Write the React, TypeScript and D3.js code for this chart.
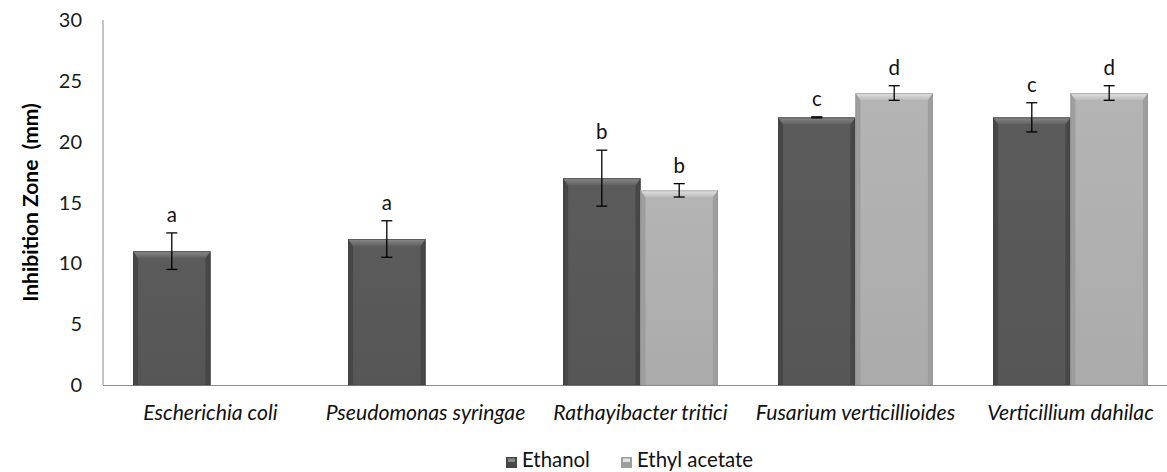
import { useEffect, useRef } from "react";
import * as d3 from "d3";

const categories = [
  "Escherichia coli",
  "Pseudomonas syringae",
  "Rathayibacter tritici",
  "Fusarium verticillioides",
  "Verticillium dahilac",
];
const seriesNames = ["Ethanol", "Ethyl acetate"];
const ethanol = [11, 12, 17, 22, 22];
const ethanolErr = [1.5, 1.5, 2.3, 0.04, 1.2];
const ethanolLetters = ["a", "a", "b", "c", "c"];
const ethylAcetate: (number | null)[] = [null, null, 16, 24, 24];
const ethylAcetateErr = [0, 0, 0.55, 0.6, 0.6];
const ethylAcetateLetters = ["", "", "b", "d", "d"];
const yTicks = [0, 5, 10, 15, 20, 25, 30];

const W = 1167;
const H = 472;

export default function App() {
  const svgRef = useRef<SVGSVGElement>(null);

  useEffect(() => {
    const svg = d3.select(svgRef.current);
    svg.selectAll("*").remove();

    const left = 103;
    const x = d3.scaleBand().domain(categories).range([left, left + 5 * 215]).paddingInner(0.28).paddingOuter(0.14);
    const xs = d3.scaleBand().domain(seriesNames).range([0, x.bandwidth()]);
    const y = d3.scaleLinear().domain([0, 30]).range([385, 20]);
    const font = "Lato, 'Open Sans', sans-serif";

    const palettes = [
      { base: "#5b5b5b", top1: "#8a8a8a", top2: "#606060", side: "#474747", edge: "#3f3f3f" },
      { base: "#b4b4b4", top1: "#e2e2e2", top2: "#bbbbbb", side: "#9e9e9e", edge: "#939393" },
    ];

    const defs = svg.append("defs");
    palettes.forEach((p, i) => {
      const g = defs.append("linearGradient").attr("id", `top${i}`).attr("x1", 0).attr("x2", 0).attr("y1", 0).attr("y2", 1);
      g.append("stop").attr("offset", "0%").attr("stop-color", p.top1);
      g.append("stop").attr("offset", "100%").attr("stop-color", p.top2);
      const b = defs.append("linearGradient").attr("id", `body${i}`).attr("x1", 0).attr("x2", 0).attr("y1", 0).attr("y2", 1);
      b.append("stop").attr("offset", "0%").attr("stop-color", p.base);
      b.append("stop").attr("offset", "100%").attr("stop-color", d3.color(p.base)!.darker(0.15).toString());
    });

    // axis lines, no tick marks
    svg.append("line").attr("x1", left).attr("x2", left).attr("y1", y(30)).attr("y2", y(0))
      .attr("stroke", "#8c8c8c").attr("stroke-width", 1);
    svg.append("line").attr("x1", left).attr("x2", W).attr("y1", y(0) + 0.5).attr("y2", y(0) + 0.5)
      .attr("stroke", "#8c8c8c").attr("stroke-width", 1);

    svg.append("g").selectAll("text").data(yTicks).join("text")
      .attr("x", 82).attr("y", d => y(d)).attr("dy", "0.35em")
      .attr("text-anchor", "end").attr("font-family", font).attr("font-size", 20).attr("fill", "#1a1a1a")
      .text(d => d);

    svg.append("text")
      .attr("transform", `translate(38,${(y(0) + y(30)) / 2}) rotate(-90)`)
      .attr("text-anchor", "middle").attr("font-family", font).attr("font-weight", "bold")
      .attr("font-size", 21).attr("fill", "#000")
      .attr("xml:space", "preserve")
      .text("Inhibition Zone  (mm)");

    const series = [
      { vals: ethanol as (number | null)[], errs: ethanolErr, letters: ethanolLetters },
      { vals: ethylAcetate, errs: ethylAcetateErr, letters: ethylAcetateLetters },
    ];

    // bevelled bar like Excel's 3-D look
    const drawBar = (g: d3.Selection<SVGGElement, unknown, null, undefined>, x0: number, w: number, v: number, pi: number) => {
      const p = palettes[pi];
      const y0 = y(v), y1 = y(0);
      const bev = 7, sw = 5;
      g.append("rect").attr("x", x0).attr("y", y0).attr("width", w).attr("height", y1 - y0).attr("fill", `url(#body${pi})`);
      g.append("polygon").attr("points", `${x0},${y0} ${x0 + sw},${y0 + bev} ${x0 + sw},${y1} ${x0},${y1}`).attr("fill", p.side);
      g.append("polygon").attr("points", `${x0 + w},${y0} ${x0 + w - sw},${y0 + bev} ${x0 + w - sw},${y1} ${x0 + w},${y1}`).attr("fill", p.side);
      g.append("polygon").attr("points", `${x0},${y0} ${x0 + w},${y0} ${x0 + w - sw},${y0 + bev} ${x0 + sw},${y0 + bev}`).attr("fill", `url(#top${pi})`);
      g.append("rect").attr("x", x0 + 0.5).attr("y", y0 + 0.5).attr("width", w - 1).attr("height", y1 - y0 - 0.5)
        .attr("fill", "none").attr("stroke", p.edge).attr("stroke-width", 1).attr("stroke-opacity", 0.6);
    };

    const bars = svg.append("g");
    const marks = svg.append("g");
    series.forEach((s, si) => {
      categories.forEach((c, ci) => {
        const v = s.vals[ci];
        if (v == null) return;
        const bx = x(c)! + xs(seriesNames[si])!;
        const bw = xs.bandwidth();
        drawBar(bars, bx, bw, v, si);
        const cx = bx + bw / 2;
        const e = s.errs[ci];
        marks.append("line").attr("x1", cx).attr("x2", cx).attr("y1", y(v + e)).attr("y2", y(v - e)).attr("stroke", "#000").attr("stroke-width", 1.3);
        [v + e, v - e].forEach(t => {
          marks.append("line").attr("x1", cx - 5.5).attr("x2", cx + 5.5).attr("y1", y(t)).attr("y2", y(t)).attr("stroke", "#000").attr("stroke-width", 1.3);
        });
        marks.append("text").attr("x", cx).attr("y", y(v + e) - 11)
          .attr("text-anchor", "middle").attr("font-family", font).attr("font-size", 20.5).attr("fill", "#111")
          .text(s.letters[ci]);
      });
    });

    svg.append("g").selectAll("text").data(categories).join("text")
      .attr("x", d => x(d)! + x.bandwidth() / 2).attr("y", 420)
      .attr("text-anchor", "middle").attr("font-family", font).attr("font-style", "italic")
      .attr("font-size", 21.2).attr("fill", "#111").text(d => d);

    const leg = svg.append("g").attr("font-family", font).attr("font-size", 20.4).attr("fill", "#111");
    const items = [
      { name: seriesNames[0], x: 506 },
      { name: seriesNames[1], x: 621 },
    ];
    items.forEach((it, i) => {
      const p = palettes[i];
      leg.append("rect").attr("x", it.x).attr("y", 457).attr("width", 11).attr("height", 11).attr("fill", p.side);
      leg.append("rect").attr("x", it.x + 2).attr("y", 458.5).attr("width", 7).attr("height", 3.5).attr("fill", p.top1);
      leg.append("text").attr("x", it.x + 16).attr("y", 467).text(it.name);
    });
  }, []);

  return (
    <svg
      ref={svgRef}
      width={W}
      height={H}
      style={{ position: "absolute", left: 0, top: 0, background: "#fff" }}
    />
  );
}
